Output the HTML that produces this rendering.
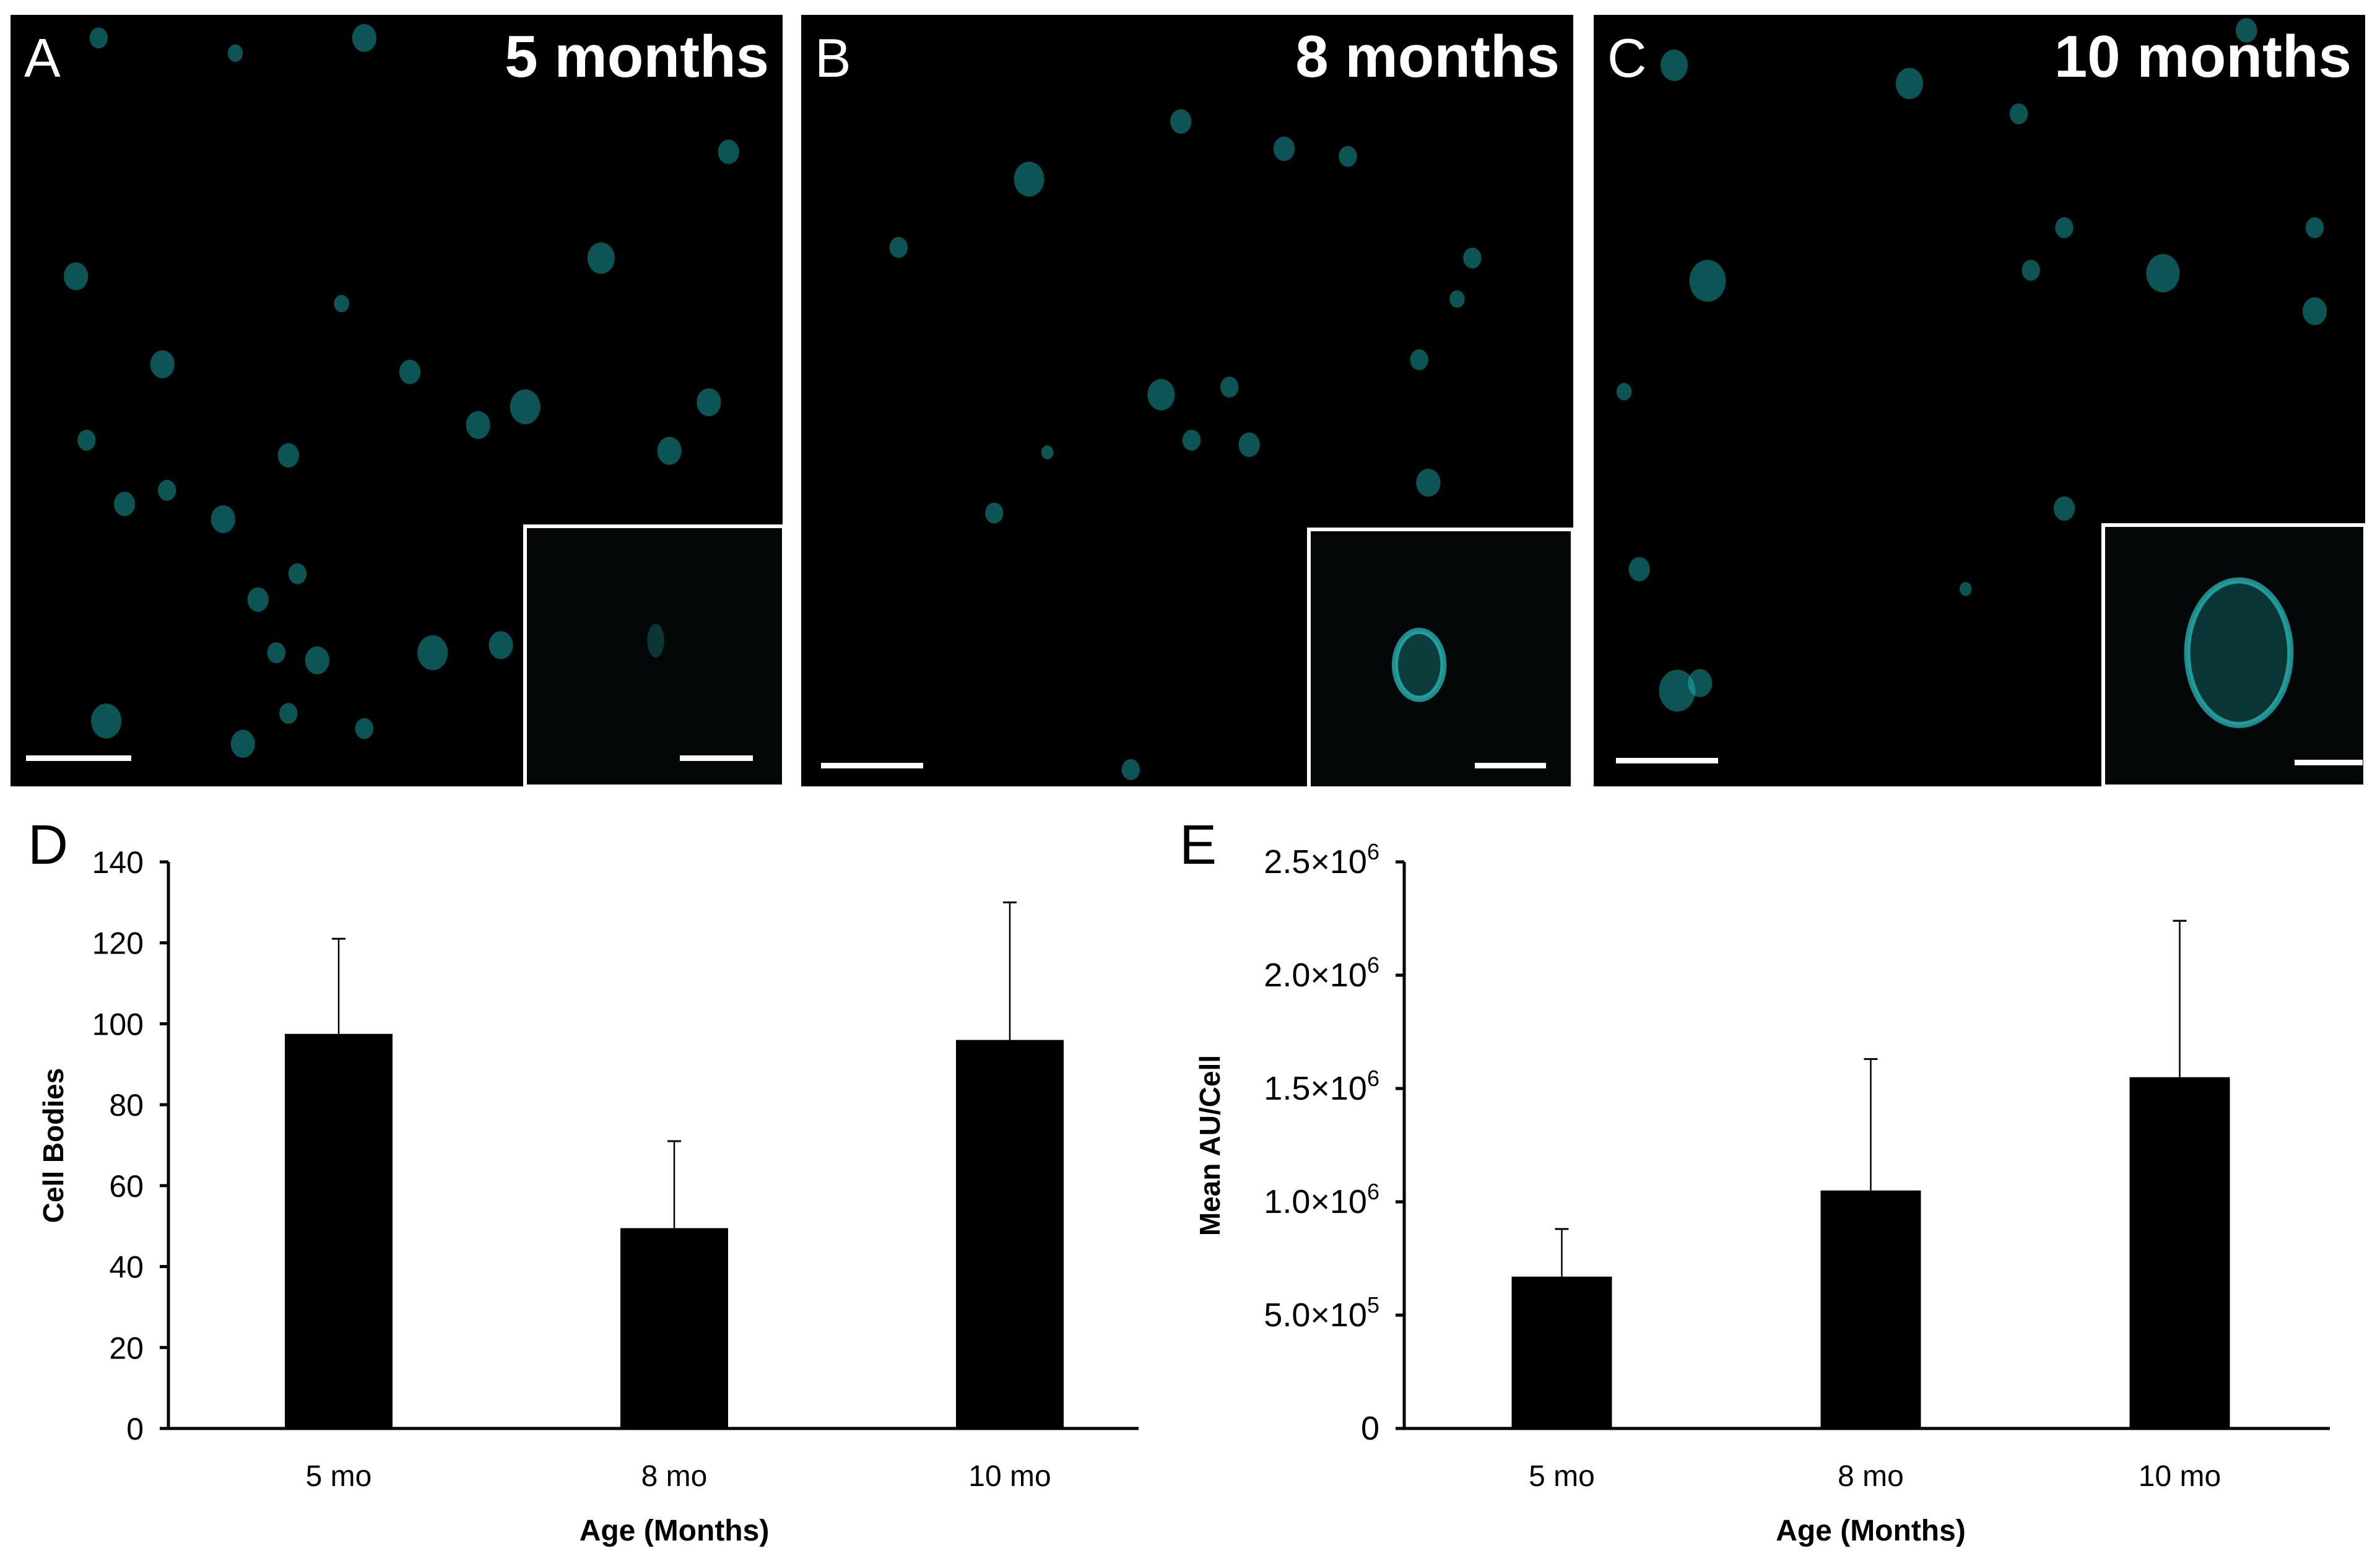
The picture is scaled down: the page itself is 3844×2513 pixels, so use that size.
<!DOCTYPE html>
<html><head><meta charset="utf-8"><style>
html,body{margin:0;padding:0;background:#fff;}
svg{display:block;}
text{font-family:"Liberation Sans",sans-serif;}
</style></head><body>
<svg id="fig" xmlns="http://www.w3.org/2000/svg" width="3844" height="2513" viewBox="0 0 3844 2513">
<rect width="3844" height="2513" fill="#fff"/>
<g id="micro"></g>
<g id="chartD"></g>
<g id="chartE"></g>
</svg>
<script>
// ---- Chart data ----
const categories = ["5 mo", "8 mo", "10 mo"];
const cellBodies = [97.5, 49.5, 96];
const cellBodiesErr = [121, 71, 130];
const dTicks = [0, 20, 40, 60, 80, 100, 120, 140];
const meanAU = [0.67e6, 1.05e6, 1.55e6];
const meanAUErr = [0.88e6, 1.63e6, 2.24e6];
const eTicks = [0, 0.5e6, 1.0e6, 1.5e6, 2.0e6, 2.5e6];
const eTickLabels = ["0", "5.0×10^5", "1.0×10^6", "1.5×10^6", "2.0×10^6", "2.5×10^6"];

const NS = "http://www.w3.org/2000/svg";
const S = 2.4515;
function mk(parent, tag, attrs) {
  const el = document.createElementNS(NS, tag);
  for (const k in attrs) el.setAttribute(k, attrs[k]);
  parent.appendChild(el);
  return el;
}

// ---- Micrographs ----
const micro = document.getElementById('micro');
const panels = [
  {x:17,y:24,w:1247,h:1246,letter:"A",title:"5 months",inset:[848,850,418,420],bar:[42,1220,170],ibar:[1098,1220,118],
   cells:[[65,25,6],[240,25,8],[155,35,5],[50,182,8],[225,200,5],[396,170,9],[107,240,8],[270,245,7],[346,268,10],[315,280,8],[467,265,8],[441,297,8],[57,290,6],[190,300,7],[82,332,7],[110,323,6],[147,342,8],[196,378,6],[170,395,7],[209,435,8],[182,430,6],[285,430,10],[330,425,8],[70,475,10],[160,490,8],[190,470,6],[240,480,6],[480,100,7],[360,470,6],[370,380,7]],
   icells:[[432,422,8]]},
  {x:1294,y:24,w:1247,h:1246,letter:"B",title:"8 months",inset:[2114,855,426,418],bar:[1326,1232,165],ibar:[2382,1232,115],
   cells:[[678,118,10],[778,80,7],[846,98,7],[888,103,6],[592,163,6],[765,260,9],[810,255,6],[785,290,6],[823,293,7],[941,318,8],[690,298,4],[970,170,6],[935,237,6],[960,197,5],[745,507,6],[655,338,6]],
   icells:[[935,438,16]]},
  {x:2574,y:24,w:1246,h:1246,letter:"C",title:"10 months",inset:[3397,848,423,422],bar:[2610,1224,165],ibar:[3706,1227,110],
   cells:[[1103,43,9],[1258,55,9],[1330,75,6],[1125,185,12],[1425,180,11],[1525,205,8],[1525,150,6],[1360,150,6],[1338,178,6],[1105,455,12],[1080,375,7],[1295,388,4],[1360,335,7],[1480,20,7],[1070,258,5],[1120,450,8]],
   icells:[[1475,430,34]]}
];
panels.forEach((p,i)=>{
  const g = mk(micro,'g',{});
  
  
  mk(g,'rect',{x:p.x,y:p.y,width:p.w,height:p.h,fill:'#000'});
  p.cells.forEach(c=>{
    const e = mk(g,'ellipse',{cx:c[0]*S,cy:c[1]*S,rx:c[2]*S,ry:c[2]*S*1.15,fill:'#1ec8c8','fill-opacity':0.42});
    
    
  });
  const ins = p.inset;
  const ir = mk(g,'rect',{x:ins[0],y:ins[1],width:ins[2],height:ins[3],fill:'#020606',stroke:'#fff','stroke-width':6});
  
  
  p.icells.forEach(c=>{
    const e = mk(g,'ellipse',{cx:c[0]*S,cy:c[1]*S,rx:c[2]*S*(i==0?0.7:1),ry:c[2]*S*1.4,fill:i==1?'#0c3c3c':'#0a3535',stroke:'#2cc8c8','stroke-width':i==0?0:10,'stroke-opacity':0.7});
    
    
  });
  const sb = mk(g,'rect',{x:p.bar[0],y:p.bar[1],width:p.bar[2],height:9,fill:'#fff'});
  
  
  const isb = mk(g,'rect',{x:p.ibar[0],y:p.ibar[1],width:p.ibar[2],height:9,fill:'#fff'});
  
  
  const lt = mk(g,'text',{x:p.x+22,y:p.y+100,fill:'#fff','font-size':88});
  lt.textContent = p.letter;
  
  
  const tt = mk(g,'text',{x:p.x+p.w-22,y:p.y+100,fill:'#fff','font-size':96,'font-weight':'bold','text-anchor':'end'});
  tt.textContent = p.title;
  
  
});

// ---- Bar charts ----
function barChart(gid, cfg) {
  const g = document.getElementById(gid);
  const y0 = 2307, y1 = 1392;
  const yScale = v => y0 - (v - cfg.min) / (cfg.max - cfg.min) * (y0 - y1);
  const xScale = i => cfg.bandStart + (i + 0.5) * cfg.bandW;
  const ya = mk(g,'line',{x1:cfg.x0,y1:y1,x2:cfg.x0,y2:y0,stroke:'#000','stroke-width':5});
  
  
  cfg.ticks.forEach((t,i)=>{
    const y = yScale(t);
    const tk = mk(g,'line',{x1:cfg.x0-14,y1:y,x2:cfg.x0,y2:y,stroke:'#000','stroke-width':5});
    
    
    const lab = mk(g,'text',{x:cfg.x0-40,y:y+18,'font-size':cfg.tfs,'text-anchor':'end',fill:'#000'});
    const s = cfg.tickLabels[i];
    if (s.indexOf('^')>=0) {
      const parts = s.split('^');
      const a = mk(lab,'tspan',{}); a.textContent = parts[0];
      const b = mk(lab,'tspan',{dy:-22,'font-size':36}); b.textContent = parts[1];
    } else lab.textContent = s;
    
    
  });
  cfg.cats.forEach((c,i)=>{
    const cx = xScale(i);
    const bw = cfg.bw;
    const err = mk(g,'line',{x1:cx,y1:yScale(cfg.err[i]),x2:cx,y2:yScale(cfg.vals[i]),stroke:'#000','stroke-width':2.5});
    
    
    const cap = mk(g,'line',{x1:cx-11,y1:yScale(cfg.err[i]),x2:cx+11,y2:yScale(cfg.err[i]),stroke:'#000','stroke-width':3});
    
    
    const r = mk(g,'rect',{x:cx-bw/2,y:yScale(cfg.vals[i]),width:bw,height:y0-yScale(cfg.vals[i]),fill:'#000'});
    
    
    const cl = mk(g,'text',{x:cx,y:2400,'font-size':48,'text-anchor':'middle',fill:'#000'});
    cl.textContent = c;
    
    
  });
  const xa = mk(g,'line',{x1:cfg.x0-14,y1:y0,x2:cfg.x1,y2:y0,stroke:'#000','stroke-width':5});
  
  
  const xt = mk(g,'text',{x:cfg.bandStart+1.5*cfg.bandW,y:2488,'font-size':48,'font-weight':'bold','text-anchor':'middle',fill:'#000'});
  xt.textContent = 'Age (Months)';
  
  
  const yt = mk(g,'text',{x:0,y:0,'font-size':46,'font-weight':'bold','text-anchor':'middle',fill:'#000',transform:'translate('+cfg.ytx+',1850) rotate(-90)'});
  yt.textContent = cfg.ytitle;
  
  
  const pl = mk(g,'text',{x:cfg.letterX,y:1395,'font-size':90,fill:'#000'});
  pl.textContent = cfg.letter;
  
  
}
barChart('chartD',{x0:272,x1:1839,bandStart:276,bandW:542,min:0,max:140,ticks:dTicks,tickLabels:dTicks.map(String),vals:cellBodies,err:cellBodiesErr,cats:categories,bw:174,tfs:50,ytitle:'Cell Bodies',ytx:102,letter:'D',letterX:45});
barChart('chartE',{x0:2268,x1:3763,bandStart:2273,bandW:499,min:0,max:2.5e6,ticks:eTicks,tickLabels:eTickLabels,vals:meanAU,err:meanAUErr,cats:categories,bw:162,tfs:54,ytitle:'Mean AU/Cell',ytx:1970,letter:'E',letterX:1905});
</script>
</body></html>
